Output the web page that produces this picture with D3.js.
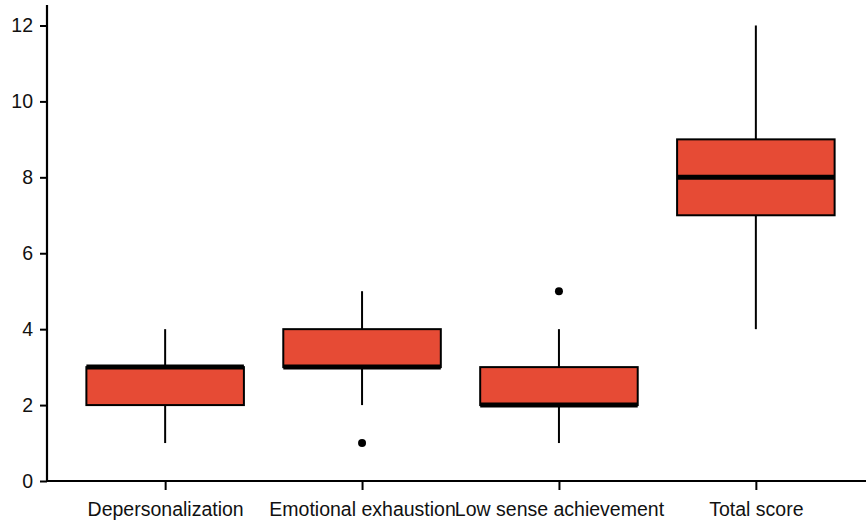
<!DOCTYPE html>
<html>
<head>
<meta charset="utf-8">
<script src="https://cdn.jsdelivr.net/npm/d3@7/dist/d3.min.js"></script>
<style>
  html, body { margin: 0; padding: 0; background: #fff; }
  svg text { font-family: "Liberation Sans", Arial, sans-serif; }
</style>
</head>
<body>
<svg id="chart" width="866" height="526"></svg>
<script>
// Burnout dimension scores, five-number summaries per dimension
const categories = ["Depersonalization", "Emotional exhaustion", "Low sense achievement", "Total score"];
const whiskerLow  = [1, 2, 1, 4];
const q1          = [2, 3, 2, 7];
const median      = [3, 3, 2, 8];
const q3          = [3, 4, 3, 9];
const whiskerHigh = [4, 5, 4, 12];
const outliers    = [[], [1], [5], []];
const yTicks      = [0, 2, 4, 6, 8, 10, 12];

const fillColor = "#E64B35";

const svg = d3.select("#chart");
const margin = { left: 47, top: 5, bottom: 45 };
const height = 526;

const y = d3.scaleLinear()
  .domain([0, 12.5])
  .range([height - margin.bottom, margin.top + 1.5]);

const x = d3.scalePoint()
  .domain(categories)
  .range([margin.left, margin.left + 827])
  .padding(0.6);

const boxWidth = x.step() * 0.8;

const data = categories.map((c, i) => ({
  cat: c, lo: whiskerLow[i], q1: q1[i], med: median[i], q3: q3[i], hi: whiskerHigh[i], out: outliers[i]
}));

// Axes
const yAxis = svg.append("g")
  .attr("transform", `translate(${margin.left},0)`)
  .call(d3.axisLeft(y).tickValues(yTicks).tickSize(7).tickPadding(7).tickSizeOuter(0));
yAxis.select(".domain").attr("stroke-width", 2.2)
  .attr("d", `M0,${y(0)}V${margin.top}`);
yAxis.selectAll(".tick line").attr("stroke-width", 2);
yAxis.selectAll(".tick text").attr("font-size", 19.5).attr("fill", "#111");

const xAxis = svg.append("g")
  .attr("transform", `translate(0,${y(0)})`)
  .call(d3.axisBottom(x).tickSize(9).tickPadding(12).tickSizeOuter(0));
xAxis.select(".domain").attr("stroke-width", 2.2)
  .attr("d", `M${margin.left},0H866`);
xAxis.selectAll(".tick line").attr("stroke-width", 2);
xAxis.selectAll(".tick text").attr("font-size", 19.5).attr("fill", "#111");

const g = svg.append("g");
const boxes = g.selectAll("g.box").data(data).join("g").attr("class", "box");

// Whiskers
boxes.append("line")
  .attr("x1", d => x(d.cat)).attr("x2", d => x(d.cat))
  .attr("y1", d => y(d.hi)).attr("y2", d => y(d.q3))
  .attr("stroke", "#000").attr("stroke-width", 2);
boxes.append("line")
  .attr("x1", d => x(d.cat)).attr("x2", d => x(d.cat))
  .attr("y1", d => y(d.q1)).attr("y2", d => y(d.lo))
  .attr("stroke", "#000").attr("stroke-width", 2);

// Boxes
boxes.append("rect")
  .attr("x", d => x(d.cat) - boxWidth / 2)
  .attr("width", boxWidth)
  .attr("y", d => y(d.q3))
  .attr("height", d => y(d.q1) - y(d.q3))
  .attr("fill", fillColor)
  .attr("stroke", "#000").attr("stroke-width", 2);

// Medians
boxes.append("line")
  .attr("x1", d => x(d.cat) - boxWidth / 2).attr("x2", d => x(d.cat) + boxWidth / 2)
  .attr("y1", d => y(d.med)).attr("y2", d => y(d.med))
  .attr("stroke", "#000").attr("stroke-width", 5);

// Outliers
boxes.selectAll("circle").data(d => d.out.map(v => ({ cat: d.cat, v })))
  .join("circle")
  .attr("cx", d => x(d.cat)).attr("cy", d => y(d.v))
  .attr("r", 4).attr("fill", "#000");
</script>
</body>
</html>
